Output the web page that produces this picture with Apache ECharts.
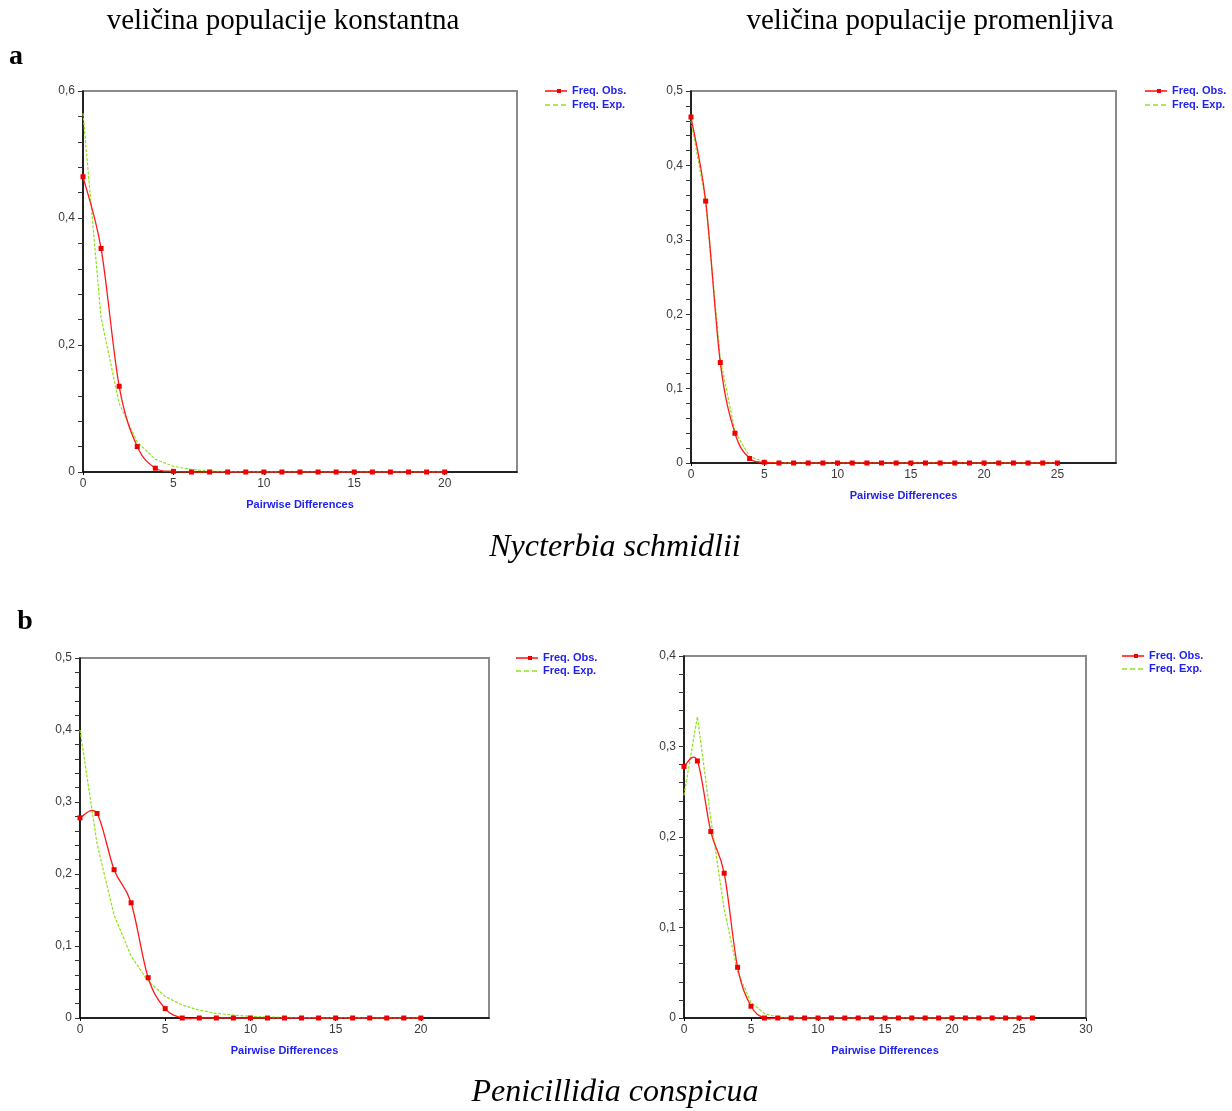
<!DOCTYPE html>
<html>
<head>
<meta charset="utf-8">
<script src="https://cdn.jsdelivr.net/npm/echarts@6/dist/echarts.min.js"></script>
<style>
html,body{margin:0;padding:0;background:#fff;}
#chart{width:1232px;height:1111px;}
</style>
</head>
<body>
<div id="chart"></div>
<script>
// ---- Data ----
// Panel a, constant population size (x = 0..20)
var obsA1 = [0.465, 0.352, 0.135, 0.040, 0.006, 0.001, 0, 0, 0, 0, 0, 0, 0, 0, 0, 0, 0, 0, 0, 0, 0];
var expA1 = [0.565, 0.243, 0.108, 0.047, 0.020, 0.009, 0.004, 0.0015, 0.0006, 0.0002, 0.0001, 0, 0, 0, 0, 0, 0, 0, 0, 0, 0];
// Panel a, variable population size (x = 0..25)
var obsA2 = [0.465, 0.352, 0.135, 0.040, 0.006, 0.001, 0, 0, 0, 0, 0, 0, 0, 0, 0, 0, 0, 0, 0, 0, 0, 0, 0, 0, 0, 0];
var expA2 = [0.460, 0.352, 0.140, 0.042, 0.009, 0.0015, 0.0002, 0, 0, 0, 0, 0, 0, 0, 0, 0, 0, 0, 0, 0, 0, 0, 0, 0, 0, 0];
// Panel b, constant population size (x = 0..20)
var obsB1 = [0.278, 0.284, 0.206, 0.160, 0.056, 0.013, 0, 0, 0, 0, 0, 0, 0, 0, 0, 0, 0, 0, 0, 0, 0];
var expB1 = [0.400, 0.242, 0.143, 0.086, 0.051, 0.030, 0.018, 0.011, 0.0065, 0.004, 0.0024, 0.0014, 0.0009, 0.0005, 0.0003, 0.0002, 0.0001, 0, 0, 0, 0];
// Panel b, variable population size (x = 0..26)
var obsB2 = [0.278, 0.284, 0.206, 0.160, 0.056, 0.013, 0, 0, 0, 0, 0, 0, 0, 0, 0, 0, 0, 0, 0, 0, 0, 0, 0, 0, 0, 0, 0];
var expB2 = [0.246, 0.333, 0.220, 0.120, 0.051, 0.017, 0.005, 0.001, 0.0002, 0, 0, 0, 0, 0, 0, 0, 0, 0, 0, 0, 0, 0, 0, 0, 0, 0, 0];

var obsName = 'Freq. Obs.';
var expName = 'Freq. Exp.';
var xName = 'Pairwise Differences';
var colTitles = ['veličina populacije konstantna', 'veličina populacije promenljiva'];
var rowLabels = ['a', 'b'];
var species = ['Nycterbia schmidlii', 'Penicillidia conspicua'];

// ---- Layout ----
var panels = [
  {obs: obsA1, exp: expA1, grid: {left: 83, top: 91, width: 434, height: 381}, xMax: 24, yMax: 0.6, yInt: 0.2, showMax: false, legend: {x: 545, y1: 91, y2: 105}},
  {obs: obsA2, exp: expA2, grid: {left: 691, top: 91, width: 425, height: 372}, xMax: 29, yMax: 0.5, yInt: 0.1, showMax: false, legend: {x: 1145, y1: 91, y2: 105}},
  {obs: obsB1, exp: expB1, grid: {left: 80, top: 658, width: 409, height: 360}, xMax: 24, yMax: 0.5, yInt: 0.1, showMax: false, legend: {x: 516, y1: 658, y2: 671}},
  {obs: obsB2, exp: expB2, grid: {left: 684, top: 656, width: 402, height: 362}, xMax: 30, yMax: 0.4, yInt: 0.1, showMax: true, legend: {x: 1122, y1: 656, y2: 669}}
];

var redCol = '#ff1a1a';
var markCol = '#ee0000';
var greenCol = '#8fe31a';
var blueText = '#2222ee';
var labelFont = 'Liberation Sans';

// Cardinal (Catmull-Rom) spline through the observed points, drawn via the axes' scales
function splineRenderer(values) {
  return function (params, api) {
    if (params.dataIndex !== 0) return null;
    var pts = values.map(function (v, k) { return api.coord([k, v]); });
    var n = pts.length, children = [];
    for (var i = 0; i < n - 1; i++) {
      var p0 = pts[Math.max(i - 1, 0)], p1 = pts[i], p2 = pts[i + 1], p3 = pts[Math.min(i + 2, n - 1)];
      children.push({
        type: 'bezierCurve',
        shape: {
          x1: p1[0], y1: p1[1], x2: p2[0], y2: p2[1],
          cpx1: p1[0] + (p2[0] - p0[0]) / 6, cpy1: p1[1] + (p2[1] - p0[1]) / 6,
          cpx2: p2[0] - (p3[0] - p1[0]) / 6, cpy2: p2[1] - (p3[1] - p1[1]) / 6
        },
        style: {stroke: redCol, fill: null, lineWidth: 1.3}
      });
    }
    return {type: 'group', children: children};
  };
}

var grids = [], xAxes = [], yAxes = [], series = [], graphics = [];
panels.forEach(function (p, i) {
  grids.push({left: p.grid.left, top: p.grid.top, width: p.grid.width, height: p.grid.height,
    show: true, borderColor: '#8a8a8a', borderWidth: 2, backgroundColor: '#fff'});
  xAxes.push({
    type: 'value', gridIndex: i, min: 0, max: p.xMax, interval: 5,
    name: xName, nameLocation: 'middle', nameGap: 27,
    nameTextStyle: {color: blueText, fontWeight: 'bold', fontSize: 11, fontFamily: labelFont},
    axisLine: {show: true, onZero: false, lineStyle: {color: '#000', width: 1.5}},
    axisTick: {show: true, length: 3, lineStyle: {color: '#000'}},
    axisLabel: {color: '#3a3a3a', fontSize: 12, fontFamily: labelFont, margin: 6, showMaxLabel: p.showMax},
    splitLine: {show: false}
  });
  yAxes.push({
    type: 'value', gridIndex: i, min: 0, max: p.yMax, interval: p.yInt,
    axisLine: {show: true, onZero: false, lineStyle: {color: '#000', width: 1.5}},
    axisTick: {show: true, length: 5, lineStyle: {color: '#333'}},
    minorTick: {show: true, splitNumber: 5, length: 5, lineStyle: {color: '#333'}},
    axisLabel: {color: '#3a3a3a', fontSize: 12, fontFamily: labelFont, margin: 8,
      formatter: function (v) { return v === 0 ? '0' : String(+v.toFixed(2)).replace('.', ','); }},
    splitLine: {show: false}
  });
  series.push({
    name: expName, type: 'line', xAxisIndex: i, yAxisIndex: i,
    data: p.exp.map(function (v, k) { return [k, v]; }),
    showSymbol: false, symbol: 'none', smooth: false,
    lineStyle: {color: greenCol, width: 1.2, type: [3, 1.5]},
    itemStyle: {color: greenCol}, z: 2, animation: false
  });
  series.push({
    name: obsName + ' curve', type: 'custom', xAxisIndex: i, yAxisIndex: i,
    data: p.obs.map(function (v, k) { return [k, v]; }),
    encode: {x: 0, y: 1},
    renderItem: splineRenderer(p.obs),
    z: 3, animation: false, silent: true
  });
  series.push({
    name: obsName, type: 'line', xAxisIndex: i, yAxisIndex: i,
    data: p.obs.map(function (v, k) { return [k, v]; }),
    symbol: 'rect', symbolSize: 5, showSymbol: true,
    lineStyle: {width: 0, opacity: 0},
    itemStyle: {color: markCol}, z: 4, animation: false
  });
  // legend (drawn as graphics to match the original's icons)
  var L = p.legend;
  graphics.push(
    {type: 'line', shape: {x1: L.x, y1: L.y1, x2: L.x + 22, y2: L.y1}, style: {stroke: redCol, lineWidth: 1.6}},
    {type: 'rect', shape: {x: L.x + 12, y: L.y1 - 2, width: 4, height: 4}, style: {fill: markCol}},
    {type: 'text', style: {text: obsName, x: L.x + 27, y: L.y1, textVerticalAlign: 'middle', font: 'bold 11px "' + labelFont + '"', fill: blueText}},
    {type: 'line', shape: {x1: L.x, y1: L.y2, x2: L.x + 22, y2: L.y2}, style: {stroke: greenCol, lineWidth: 1.6, lineDash: [5, 3]}},
    {type: 'text', style: {text: expName, x: L.x + 27, y: L.y2, textVerticalAlign: 'middle', font: 'bold 11px "' + labelFont + '"', fill: blueText}}
  );
});

var serif = 'Liberation Serif';
graphics.push(
  {type: 'text', style: {text: colTitles[0], x: 283, y: 21, textAlign: 'center', textVerticalAlign: 'middle', font: '29px "' + serif + '"', fill: '#000'}},
  {type: 'text', style: {text: colTitles[1], x: 930, y: 21, textAlign: 'center', textVerticalAlign: 'middle', font: '29px "' + serif + '"', fill: '#000'}},
  {type: 'text', style: {text: rowLabels[0], x: 16, y: 57, textAlign: 'center', textVerticalAlign: 'middle', font: 'bold 28px "' + serif + '"', fill: '#000'}},
  {type: 'text', style: {text: species[0], x: 615, y: 548, textAlign: 'center', textVerticalAlign: 'middle', font: 'italic 32px "' + serif + '"', fill: '#000'}},
  {type: 'text', style: {text: rowLabels[1], x: 25, y: 622, textAlign: 'center', textVerticalAlign: 'middle', font: 'bold 28px "' + serif + '"', fill: '#000'}},
  {type: 'text', style: {text: species[1], x: 615, y: 1093, textAlign: 'center', textVerticalAlign: 'middle', font: 'italic 32px "' + serif + '"', fill: '#000'}}
);

var chart = echarts.init(document.getElementById('chart'), null, {renderer: 'canvas'});
chart.setOption({
  animation: false,
  backgroundColor: '#fff',
  grid: grids, xAxis: xAxes, yAxis: yAxes, series: series,
  graphic: graphics
});
</script>
</body>
</html>
